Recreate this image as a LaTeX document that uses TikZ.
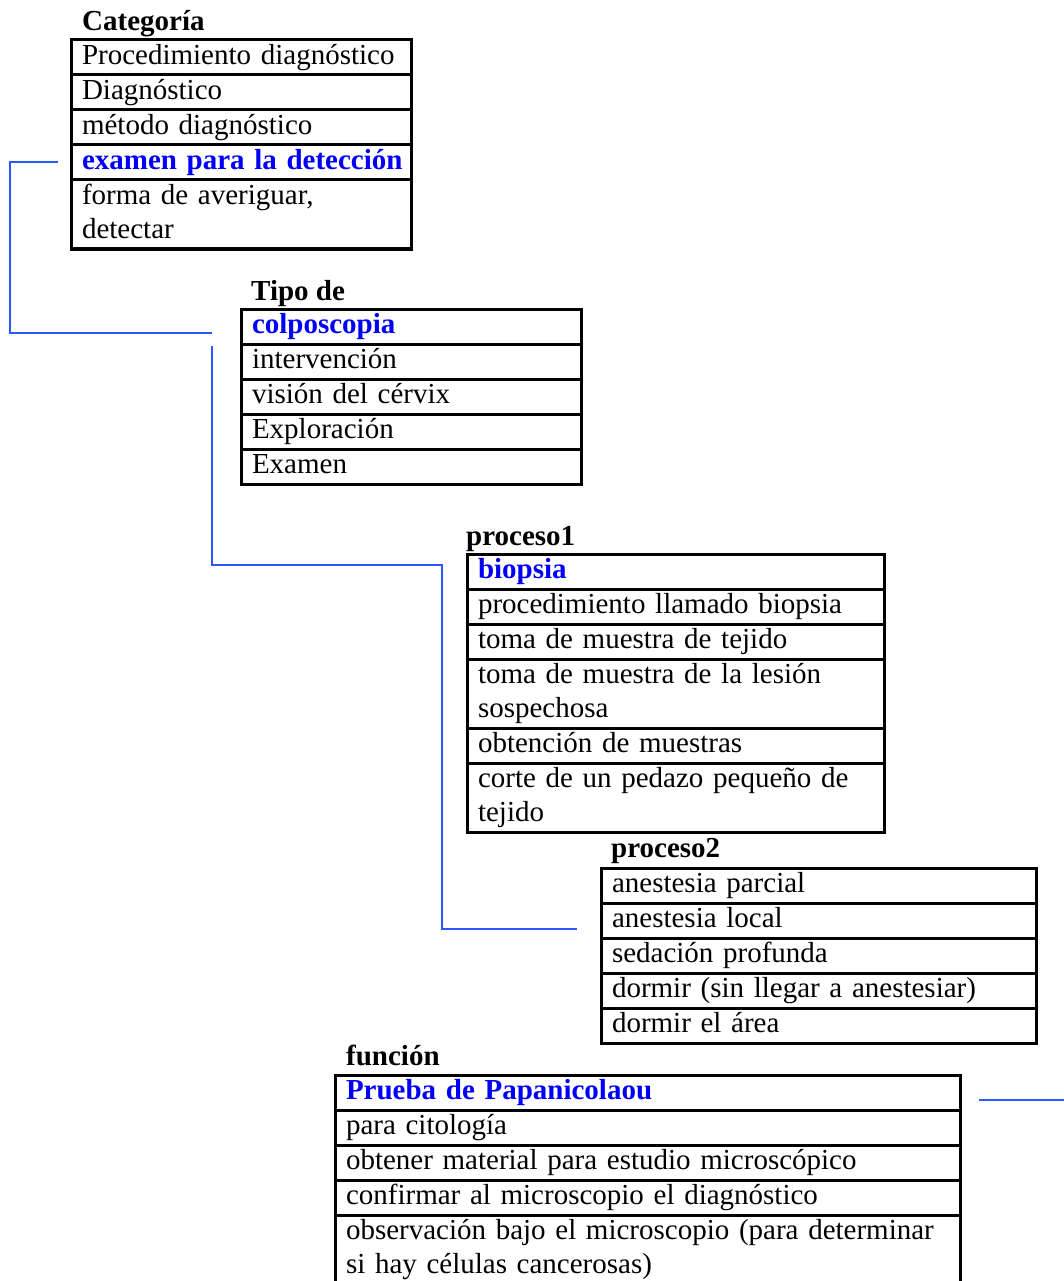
\documentclass[tikz,border=0pt]{standalone}
\usepackage{fontspec}
\setmainfont{Liberation Serif}
\usetikzlibrary{calc}
\definecolor{hilite}{RGB}{0,0,250}
\definecolor{linkline}{RGB}{40,90,255}
\tikzset{
  bodyfont/.style={font=\fontsize{29}{34.5}\selectfont},
  cell/.style={draw, line width=3pt, rectangle, anchor=north west,
    outer sep=0pt, inner xsep=11pt, inner ysep=0pt, text width=#1,
    align=left, minimum height=35pt, bodyfont,
    execute at begin node=\strut, execute at end node=\strut},
  hl/.style={text=hilite, font=\fontsize{29}{34.5}\selectfont\bfseries},
  ttl/.style={anchor=base west, inner sep=0pt,
    font=\fontsize{29}{34.5}\selectfont\bfseries},
  link/.style={draw=linkline, line width=2pt}
}
\begin{document}
\begin{tikzpicture}[x=1pt,y=-1pt]
\useasboundingbox (0,0) rectangle (1064,1281);
\clip (0,0) rectangle (1064,1281);

% Categoría
\node[cell=318] (cat1) at (71,40) {Procedimiento diagnóstico};
\node[cell=318] (cat2) at (cat1.south west) {Diagnóstico};
\node[cell=318] (cat3) at (cat2.south west) {método diagnóstico};
\node[cell=318, hl] (cat4) at (cat3.south west) {\mbox{examen para la detección}};
\node[cell=318] (cat5) at (cat4.south west) {forma de averiguar,\\ detectar};
\node[ttl] (catT) at ($(cat1.north west)+(11,-9)$) {Categoría};

% Tipo de
\node[cell=318, hl] (tip1) at (241,309) {colposcopia};
\node[cell=318] (tip2) at (tip1.south west) {intervención};
\node[cell=318] (tip3) at (tip2.south west) {visión del cérvix};
\node[cell=318] (tip4) at (tip3.south west) {Exploración};
\node[cell=318] (tip5) at (tip4.south west) {Examen};
\node[ttl] (tipT) at ($(tip1.north west)+(10,-9)$) {Tipo de};

% proceso1
\node[cell=395, hl] (pa1) at (467,554) {biopsia};
\node[cell=395] (pa2) at (pa1.south west) {procedimiento llamado biopsia};
\node[cell=395] (pa3) at (pa2.south west) {toma de muestra de tejido};
\node[cell=395] (pa4) at (pa3.south west) {toma de muestra de la lesión\\ sospechosa};
\node[cell=395] (pa5) at (pa4.south west) {obtención de muestras};
\node[cell=395] (pa6) at (pa5.south west) {corte de un pedazo pequeño de\\ tejido};
\node[ttl] (paT) at ($(pa1.north west)+(-1,-9)$) {proceso1};

% proceso2
\node[cell=413] (pb1) at (601,868) {anestesia parcial};
\node[cell=413] (pb2) at (pb1.south west) {anestesia local};
\node[cell=413] (pb3) at (pb2.south west) {sedación profunda};
\node[cell=413] (pb4) at (pb3.south west) {dormir (sin llegar a anestesiar)};
\node[cell=413] (pb5) at (pb4.south west) {dormir el área};
\node[ttl] (pbT) at ($(pb1.north west)+(10,-11)$) {proceso2};

% función
\node[cell=603, hl] (fn1) at (335,1075) {Prueba de Papanicolaou};
\node[cell=603] (fn2) at (fn1.south west) {para citología};
\node[cell=603] (fn3) at (fn2.south west) {obtener material para estudio microscópico};
\node[cell=603] (fn4) at (fn3.south west) {confirmar al microscopio el diagnóstico};
\node[cell=603] (fn5) at (fn4.south west) {observación bajo el microscopio (para determinar\\ si hay células cancerosas)};
\node[ttl] (fnT) at ($(fn1.north west)+(11,-10)$) {función};

% connectors
\coordinate (a0) at ($(cat4.west)+(-13,0)$);
\coordinate (a1) at ($(tip1.west)+(-29,6)$);
\draw[link] (a0) -| ($(a1)+(-202,0)$) -- (a1);

\coordinate (b0) at ($(tip2.west)+(-29,-15.5)$);
\coordinate (b2) at ($(pa1.north west)+(-25,11)$);
\coordinate (b1) at ($(pb2.west)+(-24,8.5)$);
\draw[link] (b0) |- (b2) |- (b1);

\coordinate (c0) at ($(fn1.east)+(19,7)$);
\coordinate (c1) at ($(c0)+(100,0)$);
\draw[link] (c0) -- (c1);
\end{tikzpicture}
\end{document}
